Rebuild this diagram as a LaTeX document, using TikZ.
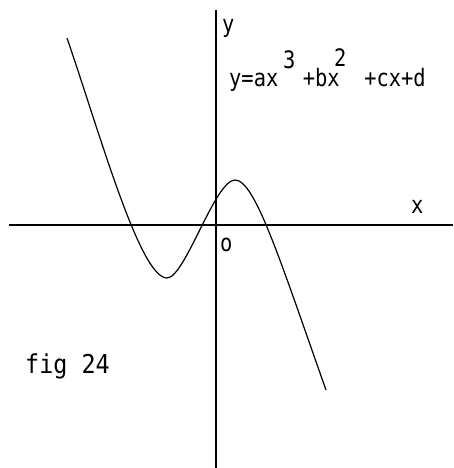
\documentclass[tikz,border=0pt]{standalone}
\usepackage{fontspec}
\usepackage{tikz}
\usetikzlibrary{positioning,calc}
\newfontfamily\plotfont[FakeStretch=0.85]{DejaVu Sans Mono}
\newfontfamily\figfont[FakeStretch=0.9]{DejaVu Sans Mono}

\begin{document}
\begin{tikzpicture}[
    x=1pt, y=-1pt,
    axis/.style={line width=1.8pt, color=black},
    curve/.style={line width=1.2pt, color=black},
    lbl/.style={anchor=base west, inner sep=0pt, font=\plotfont\fontsize{24}{28}\selectfont}
]
\useasboundingbox (0,0) rectangle (453,468);

% Axes
\coordinate (xl) at (9,225);
\coordinate (xr) at (453,225);
\coordinate (yt) at (216,10);
\coordinate (yb) at (216,468);
\draw[axis] (xl) -- (xr);
\draw[axis] (yt) -- (yb);

% Cubic curve
\coordinate (start) at (67,38);
\coordinate (min)   at (167,278);
\coordinate (max)   at (235,180);
\coordinate (end)   at (326,390);
\draw[curve] (start) .. controls (100,134) and (140,278) .. (min)
             .. controls (185,278) and (215,180) .. (max)
             .. controls (255,180) and (280,260) .. (end);

% Labels
\node[lbl] (ylab)  at (222,33)  {y};
\node[lbl] (xlab)  at (411,213) {x};
\node[lbl] (olab)  at (220,251) {o};
\node[lbl] (eqn)   at (229,87)  {y=ax\hphantom{00}+bx\hphantom{00}+cx+d};
\node[lbl] (sup3)  at (283,69)  {3};
\node[lbl] (sup2)  at (334,67)  {2};
\node[lbl, font=\figfont\fontsize{26}{30}\selectfont] (fig) at (25,373) {fig 24};

\end{tikzpicture}
\end{document}
